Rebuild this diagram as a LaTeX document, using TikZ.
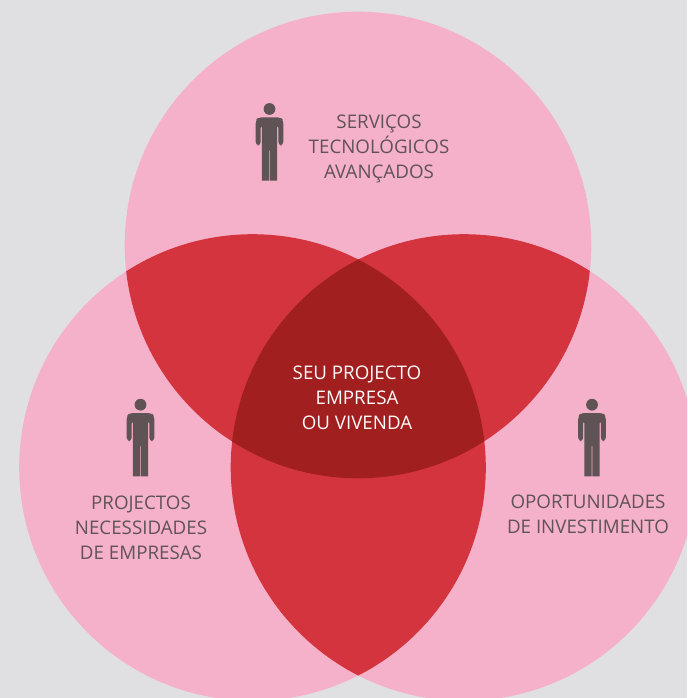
\documentclass[tikz,border=0pt]{standalone}
\usepackage{fontspec}
\setmainfont{Open Sans}
\definecolor{bgc}{HTML}{E0E0E2}
\definecolor{pinkc}{HTML}{F6B1CA}
\definecolor{redc}{HTML}{D4343D}
\definecolor{darkc}{HTML}{A11F1E}
\definecolor{inkc}{HTML}{5F5356}
\tikzset{
  lab/.style={align=center,text=inkc,font=\fontsize{13.5}{18}\selectfont,inner sep=0pt},
  person/.pic={
    \fill[inkc] (0,5.7) circle (5.9);
    \fill[inkc,rounded corners=2.4] (-13.8,17) -- (-13.8,42) -- (-8.8,42) -- (-8.8,21) -- (-7.6,21)
      -- (-7.6,74) to[out=-90,in=-90,looseness=1.2] (-.3,74) -- (-.3,44) -- (.3,44) -- (.3,74)
      to[out=-90,in=-90,looseness=1.2] (7.6,74) -- (7.6,21) -- (8.8,21) -- (8.8,42) -- (13.8,42) -- (13.8,17) -- (11,14) -- (-11,14) -- cycle;
  }
}
\begin{document}
\begin{tikzpicture}[x=.72pt,y=-.72pt]
\path[use as bounding box,fill=bgc] (0,0) rectangle (687,698);
\clip (0,0) rectangle (687,698);
\coordinate (T) at (358,245);
\coordinate (L) at (252.5,467.5);
\coordinate (R) at (464,467.5);
\def\rad{233.3*.72pt}
\fill[pinkc] (T) circle[radius=\rad] (L) circle[radius=\rad] (R) circle[radius=\rad];
\begin{scope}\clip (T) circle[radius=\rad]; \fill[redc] (L) circle[radius=\rad]; \fill[redc] (R) circle[radius=\rad];\end{scope}
\begin{scope}\clip (L) circle[radius=\rad]; \fill[redc] (R) circle[radius=\rad];\end{scope}
\begin{scope}\clip (T) circle[radius=\rad]; \clip (L) circle[radius=\rad]; \fill[darkc] (R) circle[radius=\rad];\end{scope}
\pic at (269.5,103.3) {person};
\pic at (140.5,399) {person};
\pic at (592,399) {person};
\node[lab] (a) at (379,148.5) {SERVIÇOS\\TECNOLÓGICOS\\AVANÇADOS};
\node[lab] (b) at (141,527.5) {PROJECTOS\\NECESSIDADES\\DE EMPRESAS};
\node[lab] (c) at (588,514.5) {OPORTUNIDADES\\DE INVESTIMENTO};
\node[lab,text=white!92!pinkc] (d) at (357,397.5) {SEU PROJECTO\\EMPRESA\\OU VIVENDA};
\end{tikzpicture}
\end{document}
